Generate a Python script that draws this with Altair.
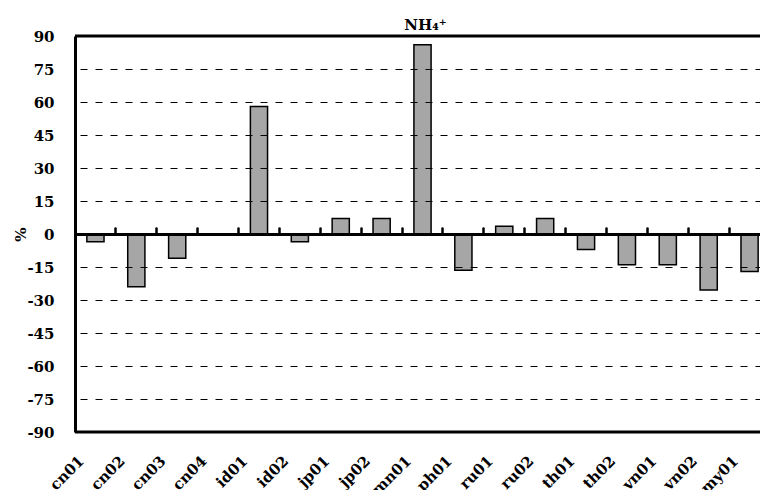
import altair as alt
import pandas as pd

# Relative change of NH4+ per monitoring site (%)
sites = ["cn01", "cn02", "cn03", "cn04", "id01", "id02", "jp01", "jp02", "mn01",
         "ph01", "ru01", "ru02", "th01", "th02", "vn01", "vn02", "my01"]
change = [-3.5, -24, -11, 0, 58, -3.5, 7, 7, 86,
          -16.5, 3.5, 7, -7, -14, -14, -25.5, -17]

y_ticks = list(range(-90, 91, 15))
y_limits = [-90, 90]

df = pd.DataFrame({"site": sites, "change": change})
frame_df = pd.DataFrame({"change": y_limits})

FONT = "DejaVu Serif"
PLOT_W, PLOT_H = 685, 396

x_scale = alt.Scale(domain=sites, range=[0, 695], paddingInner=0, paddingOuter=0)
y_scale = alt.Scale(domain=y_limits, nice=False, zero=False)

y_axis = alt.Axis(
    values=y_ticks, labelExpr="'' + datum.value",
    labelFont=FONT, labelFontSize=15, labelFontWeight="bold", labelColor="black",
    labelPadding=21, ticks=False,
    domain=True, domainColor="black", domainWidth=3,
    grid=True, gridColor="black", gridWidth=1, gridDash=[7, 8], gridDashOffset=10,
    title="%", titleFont=FONT, titleFontSize=15, titleFontWeight="bold", titleColor="black",
    titleAngle=270, titleX=-55, titleY=198, titleAlign="center", titleBaseline="middle",
    zindex=1,
)

# zero line with category-boundary tick marks
zero_axis = alt.Axis(
    orient="top", offset=-198, title=None, labels=False, grid=False,
    domain=True, domainColor="black", domainWidth=3,
    ticks=True, tickColor="black", tickSize=6, tickWidth=2.5, tickCap="round",
    bandPosition=0, zindex=2,
)

label_axis = alt.Axis(
    orient="bottom", title=None, domain=False, ticks=False, grid=False,
    labelAngle=-45, labelAlign="right", labelBaseline="middle",
    labelPadding=26, labelOffset=-14,
    labelFont=FONT, labelFontSize=15, labelFontWeight="bold", labelColor="black",
)

bars = alt.Chart(df).mark_bar(
    width=alt.RelativeBandSize(0.42), color="#a6a6a6", stroke="black", strokeWidth=1.5
).encode(
    x=alt.X("site:N", sort=sites, scale=x_scale, axis=zero_axis),
    y=alt.Y("change:Q", scale=y_scale, axis=y_axis),
)

site_labels = alt.Chart(df).mark_point(opacity=0).encode(
    x=alt.X("site:N", sort=sites, scale=x_scale, axis=label_axis),
    y=alt.Y("change:Q", scale=y_scale, axis=y_axis),
)

# top and bottom edges of the plot frame
frame = alt.Chart(frame_df).mark_rule(color="black", strokeWidth=3).encode(
    y=alt.Y("change:Q", scale=y_scale, axis=y_axis),
)

chart = alt.layer(bars, site_labels, frame).resolve_axis(
    x="independent"
).properties(
    width=PLOT_W, height=PLOT_H,
    autosize=alt.AutoSizeParams(type="none"),
    padding={"left": 75, "top": 36, "right": 0, "bottom": 58},
    title=alt.Title("NH₄⁺", font=FONT, fontSize=15, fontWeight="bold", color="black",
                    anchor="middle", baseline="alphabetic", offset=9, dy=25, dx=8),
    background="white",
).configure_view(stroke=None)

chart.save("out.html", embed_options={"renderer": "svg", "actions": False})
